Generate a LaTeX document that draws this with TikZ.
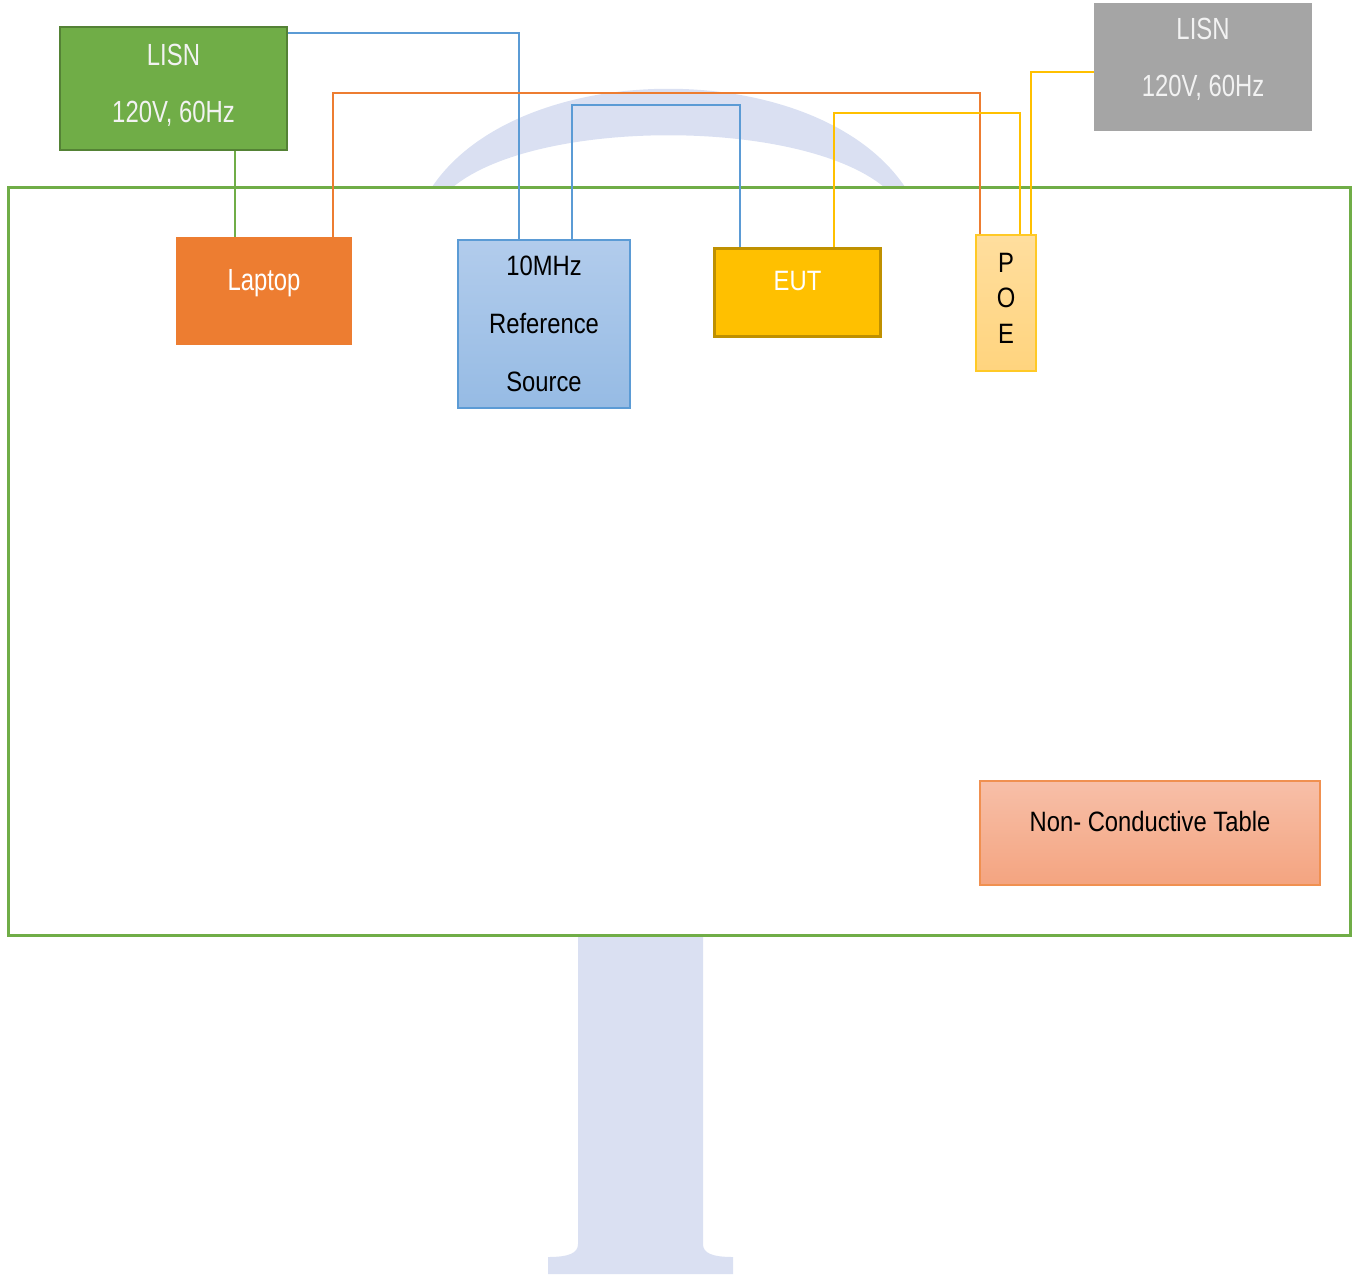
\documentclass[tikz,border=0pt]{standalone}
\usepackage{fontspec}
\setmainfont{Liberation Sans}
\newfontfamily\lisnfont{Liberation Sans}[FakeStretch=0.78]
\newfontfamily\boxfont{Liberation Sans}[FakeStretch=0.85]
\definecolor{grass}{RGB}{112,173,71}
\definecolor{moss}{RGB}{84,130,53}
\definecolor{slate}{RGB}{165,165,165}
\definecolor{tangerine}{RGB}{237,125,49}
\definecolor{sky}{RGB}{91,155,213}
\definecolor{skytop}{RGB}{178,204,236}
\definecolor{skybot}{RGB}{150,187,228}
\definecolor{gold}{RGB}{255,192,0}
\definecolor{bronze}{RGB}{191,144,0}
\definecolor{cream}{RGB}{255,222,158}
\definecolor{creambot}{RGB}{255,212,126}
\definecolor{peach}{RGB}{247,191,168}
\definecolor{peachbot}{RGB}{244,164,128}
\definecolor{mist}{RGB}{218,224,242}
\tikzset{
  lisn/.style={fill=#1,text=white!95!black,rectangle,inner sep=0pt,align=center,
    minimum width=113.5pt,minimum height=61.5pt,
    font=\lisnfont\fontsize{15.3}{28.5}\selectfont},
  lisn/.default=grass,
  kit/.style={text=white,rectangle,inner sep=0pt,align=center,
    font=\lisnfont\fontsize{15.3}{18}\selectfont,text height=11pt,text depth=12pt},
  dev/.style={rectangle,inner sep=0pt,align=center,text=black,
    font=\boxfont\fontsize{14}{29}\selectfont},
  lift/.style={text height=10pt,text depth=12pt},
  wire/.style={draw=#1,line width=0.75pt},
  wire/.default=sky,
}
\begin{document}
\begin{tikzpicture}[x=0.5pt,y=-0.5pt]
  \useasboundingbox (0,0) rectangle (1352,1274);
  % watermark behind the table
  \fill[mist] (432,187) .. controls (520,56) and (817,56) .. (905,187) -- (884,187)
    .. controls (800,118) and (537,118) .. (453,187) -- cycle;
  \fill[mist] (578,930) -- (703,930) -- (703,1244) .. controls (703,1253) and (712,1257) .. (733,1257)
    -- (733,1274) -- (548,1274) -- (548,1257) .. controls (569,1257) and (578,1253) .. (578,1244) -- cycle;
  \node[draw=grass,line width=1.5pt,fill=white,minimum width=671pt,minimum height=374pt] (tabletop) at (679,561) {};

  \node[lisn=grass,draw=moss,line width=1.2pt,text depth=5pt] (lisnA) at (173.5,88.5) {LISN\\120V, 60Hz};
  \node[lisn=slate,minimum width=109pt,minimum height=64pt,text depth=10pt] (lisnB) at (1203,67) {LISN\\120V, 60Hz};
  \node[kit,fill=tangerine,minimum width=88pt,minimum height=54pt] (laptop) at (264,291) {Laptop};
  \node[dev,draw=sky,line width=0.8pt,top color=skytop,bottom color=skybot,
    minimum width=86pt,minimum height=84pt] (refsrc) at (544,324) {10MHz\\Reference\\Source};
  \node[kit,fill=gold,draw=bronze,line width=1.5pt,minimum width=83pt,minimum height=44pt,
    font=\boxfont\fontsize{14}{17}\selectfont,text height=10pt] (eut) at (797.5,292) {EUT};
  \node[dev,draw=gold!85!white,line width=0.8pt,top color=cream,bottom color=creambot,text depth=5pt,
    minimum width=30pt,minimum height=68pt,font=\boxfont\fontsize{14}{17.75}\selectfont] (poe) at (1006,303) {P\\O\\E};
  \node[dev,lift,draw=tangerine!85!white,line width=0.8pt,top color=peach,bottom color=peachbot,
    minimum width=170pt,minimum height=52pt] (tbl) at (1150,833) {Non- Conductive Table};

  \draw[wire=grass] (lisnA.south -| 235,0) -- (laptop.north -| 235,0);
  \draw[wire=sky] (lisnA.east |- 0,33) -| (refsrc.north -| 519,0);
  \draw[wire=tangerine] (laptop.north -| 333,0) |- (980,93) -- (poe.north -| 980,0);
  \draw[wire=sky] (refsrc.north -| 572,0) |- (740,105) -- (eut.north -| 740,0);
  \draw[wire=gold] (eut.north -| 834,0) |- (1020,113) -- (poe.north -| 1020,0);
  \draw[wire=gold] (poe.north -| 1031,0) |- (lisnB.west |- 0,72);
\end{tikzpicture}
\end{document}
